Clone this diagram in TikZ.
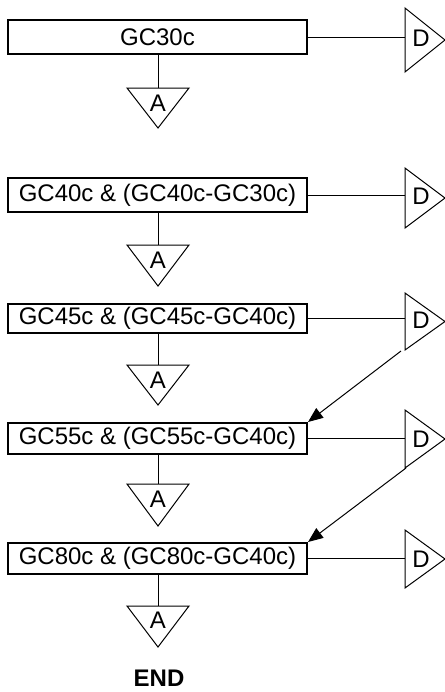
\documentclass[tikz,border=0pt]{standalone}
\usepackage{fontspec}
\setmainfont{Liberation Sans}
\usetikzlibrary{arrows.meta}
\begin{document}
\begin{tikzpicture}[x=0.5pt,y=-0.5pt,
  txt/.style={font=\fontsize{12}{14}\selectfont},
  box/.style={draw,line width=1pt,minimum width=149.5pt,inner sep=0pt,txt},
  tri/.style={draw,line width=0.5pt},
  lbl/.style={inner sep=0pt,txt},
  conn/.style={line width=0.5pt},
  arr/.style={conn,-{Triangle[length=7.5pt,width=6pt]}}]
\useasboundingbox (0,0) rectangle (445,692);

% boxes
\node[box,minimum height=17pt]   (b1) at (157.5,37)    {GC30c};
\node[box,minimum height=17pt]   (b2) at (157.5,195)   {GC40c \& (GC40c-GC30c)};
\node[box,minimum height=14.5pt] (b3) at (157.5,318.5) {GC45c \& (GC45c-GC40c)};
\node[box,minimum height=15.5pt] (b4) at (157.5,438.5) {GC55c \& (GC55c-GC40c)};
\node[box,minimum height=15.5pt] (b5) at (157.5,558.5) {GC80c \& (GC80c-GC40c)};

% D triangles (left edge centre)
\coordinate (d1) at (405,40);
\coordinate (d2) at (405,198);
\coordinate (d3) at (405,321.5);
\coordinate (d4) at (405,439);
\coordinate (d5) at (405,559);
\draw[tri] (d1) ++(0,-32) -- ++(40,32) -- ++(-40,32) -- cycle;
\draw[tri] (d2) ++(0,-30) -- ++(40,30) -- ++(-40,30) -- cycle;
\draw[tri] (d3) ++(0,-28.5) -- ++(40,28.5) -- ++(-40,28.5) -- cycle;
\draw[tri] (d4) ++(0,-29) -- ++(40,29) -- ++(-40,29) -- cycle;
\draw[tri] (d5) ++(0,-29) -- ++(40,29) -- ++(-40,29) -- cycle;
\node[lbl] (dl1) at (421,38)  {D};
\node[lbl] (dl2) at (421,196) {D};
\node[lbl] (dl3) at (421,320) {D};
\node[lbl] (dl4) at (421,439) {D};
\node[lbl] (dl5) at (421,559) {D};

% A triangles (top edge centre)
\coordinate (a1) at (158,88);
\coordinate (a2) at (158,245);
\coordinate (a3) at (158,365);
\coordinate (a4) at (158,484);
\coordinate (a5) at (158,606);
\draw[tri] (a1) ++(-31,0) -- ++(62,0) -- ++(-31,40) -- cycle;
\draw[tri] (a2) ++(-31,0) -- ++(62,0) -- ++(-31,41) -- cycle;
\draw[tri] (a3) ++(-31,0) -- ++(62,0) -- ++(-31,40) -- cycle;
\draw[tri] (a4) ++(-31,0) -- ++(62,0) -- ++(-31,42) -- cycle;
\draw[tri] (a5) ++(-31,0) -- ++(62,0) -- ++(-31,41) -- cycle;
\node[lbl] (al1) at (158,103) {A};
\node[lbl] (al2) at (158,260) {A};
\node[lbl] (al3) at (158,380) {A};
\node[lbl] (al4) at (158,499) {A};
\node[lbl] (al5) at (158,620) {A};

% connectors box -> A
\draw[conn] (b1.south -| a1) -- (a1);
\draw[conn] (b2.south -| a2) -- (a2);
\draw[conn] (b3.south -| a3) -- (a3);
\draw[conn] (b4.south -| a4) -- (a4);
\draw[conn] (b5.south -| a5) -- (a5);

% connectors box -> D
\draw[conn] (b1.east) -- (b1.east -| d1);
\draw[conn] (b2.east) -- (b2.east -| d2);
\draw[conn] (b3.east) -- (b3.east -| d3);
\draw[conn] (b4.east) -- (b4.east -| d4);
\draw[conn] (b5.east) -- (b5.east -| d5);

% diagonal arrows D -> next box
\coordinate (s3) at (401,351);
\coordinate (s4) at (406,468);
\draw[arr] (s3) -- (b4.north east);
\draw[arr] (s4) -- (b5.north east);

\node[lbl,font=\fontsize{12}{14}\selectfont\bfseries] (end) at (159,678) {END};
\end{tikzpicture}
\end{document}
